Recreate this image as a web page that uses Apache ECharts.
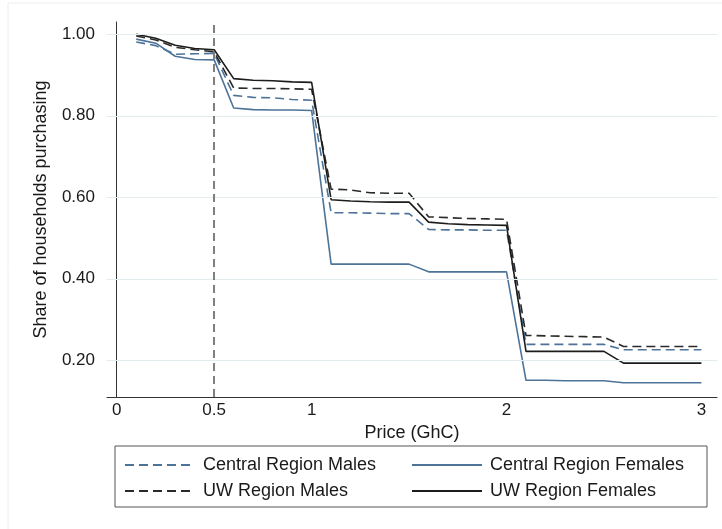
<!DOCTYPE html>
<html><head><meta charset="utf-8">
<script src="https://cdn.jsdelivr.net/npm/echarts@6/dist/echarts.min.js"></script>
<style>html,body{margin:0;padding:0;background:#fff}#c{width:722px;height:529px}</style>
</head><body><div id="c"></div>
<script>
const prices = [0.1,0.2,0.3,0.4,0.5,0.6,0.7,0.8,0.9,1.0,1.1,1.2,1.3,1.4,1.5,1.6,1.7,1.8,1.9,2.0,2.1,2.2,2.3,2.4,2.5,2.6,2.7,2.8,2.9,3.0];
const centralMales   = [0.981,0.972,0.951,0.952,0.953,0.850,0.845,0.844,0.840,0.838,0.562,0.562,0.561,0.560,0.560,0.521,0.520,0.520,0.519,0.519,0.239,0.239,0.239,0.239,0.239,0.226,0.226,0.226,0.226,0.226];
const uwMales        = [0.996,0.986,0.968,0.962,0.957,0.868,0.867,0.867,0.866,0.865,0.620,0.618,0.611,0.610,0.610,0.552,0.550,0.548,0.547,0.546,0.261,0.260,0.259,0.258,0.257,0.234,0.234,0.234,0.234,0.234];
const centralFemales = [0.988,0.978,0.946,0.938,0.937,0.819,0.815,0.814,0.814,0.813,0.436,0.436,0.436,0.436,0.436,0.417,0.417,0.417,0.417,0.417,0.151,0.151,0.150,0.150,0.150,0.145,0.145,0.145,0.145,0.145];
const uwFemales      = [1.000,0.990,0.973,0.965,0.962,0.891,0.887,0.886,0.883,0.882,0.594,0.591,0.589,0.588,0.588,0.539,0.535,0.533,0.532,0.531,0.222,0.222,0.222,0.222,0.222,0.193,0.193,0.193,0.193,0.193];
const xTicks = [0,0.5,1,2,3];
const yTicks = [0.2,0.4,0.6,0.8,1.0];
const cutoffPrice = 0.5;

const BLUE = '#4d7399', BLACK = '#1c1c1c';
const FONT = 'Liberation Sans, Arial, sans-serif';
const pairs = a => prices.map((p,i)=>[p,a[i]]);
const mk = (name, arr, color, dashed) => ({
  name, type:'line', data:pairs(arr), symbol:'none', z:3,
  lineStyle:{color, width:1.6, type: dashed ? [9,5] : 'solid'},
  itemStyle:{color}
});
const legendText = {fontFamily:FONT, fontSize:18, color:'#1a1a1a', padding:[0,0,0,3]};

const chart = echarts.init(document.getElementById('c'), null, {renderer:'canvas'});
chart.setOption({
  animation:false,
  backgroundColor:'#fff',
  textStyle:{fontFamily:FONT},
  grid:{left:107, right:5, top:22, bottom:132, containLabel:false},
  xAxis:{
    type:'value', min:-0.05, max:3.08,
    name:'Price (GhC)', nameLocation:'middle', nameGap:17,
    nameTextStyle:{fontFamily:FONT, fontSize:18, color:'#1a1a1a'},
    axisLine:{show:true, lineStyle:{color:'#333', width:1}},
    axisTick:{show:false},
    axisLabel:{customValues:xTicks, formatter:v=>String(v), fontFamily:FONT, fontSize:17, color:'#1a1a1a', margin:5},
    splitLine:{show:false}
  },
  yAxis:{
    type:'value', min:0.11, max:1.03,
    name:'Share of households purchasing', nameLocation:'middle', nameGap:57, nameRotate:90,
    nameTextStyle:{fontFamily:FONT, fontSize:18, color:'#1a1a1a'},
    axisLine:{show:true, lineStyle:{color:'#333', width:1}},
    axisTick:{show:true, customValues:yTicks, length:5, lineStyle:{color:'#333'}},
    axisLabel:{customValues:yTicks, formatter:v=>v.toFixed(2), fontFamily:FONT, fontSize:17, color:'#1a1a1a', margin:12},
    splitLine:{show:false}
  },
  legend:[
    {data:['Central Region Males','UW Region Males'], orient:'vertical', left:119, top:451,
     itemWidth:70, itemHeight:18, itemGap:8, itemStyle:{opacity:0},
     textStyle:legendText},
    {data:['Central Region Females','UW Region Females'], orient:'vertical', left:406, top:451,
     itemWidth:70, itemHeight:18, itemGap:8, itemStyle:{opacity:0},
     textStyle:legendText}
  ],
  graphic:[
    {type:'rect', shape:{x:115, y:446, width:592, height:61}, style:{fill:'none', stroke:'#555', lineWidth:1}, silent:true},
    {type:'rect', shape:{x:8, y:3, width:720, height:530}, style:{fill:'none', stroke:'#eeeeee', lineWidth:1}, silent:true}
  ],
  series:[
    {type:'line', data:[], z:1, silent:true,
     markLine:{silent:true, symbol:['none','none'], label:{show:false},
       lineStyle:{color:'#e4ecf0', type:'solid', width:1},
       data:yTicks.map(v=>({yAxis:v}))}},
    {type:'line', data:[], z:2, silent:true,
     markLine:{silent:true, symbol:['none','none'], label:{show:false},
       lineStyle:{color:'#555', type:[8,5], width:1.5},
       data:[{xAxis:cutoffPrice}]}},
    mk('Central Region Males', centralMales, BLUE, true),
    mk('Central Region Females', centralFemales, BLUE, false),
    mk('UW Region Males', uwMales, '#2a2a2a', true),
    mk('UW Region Females', uwFemales, BLACK, false)
  ]
});
</script></body></html>
